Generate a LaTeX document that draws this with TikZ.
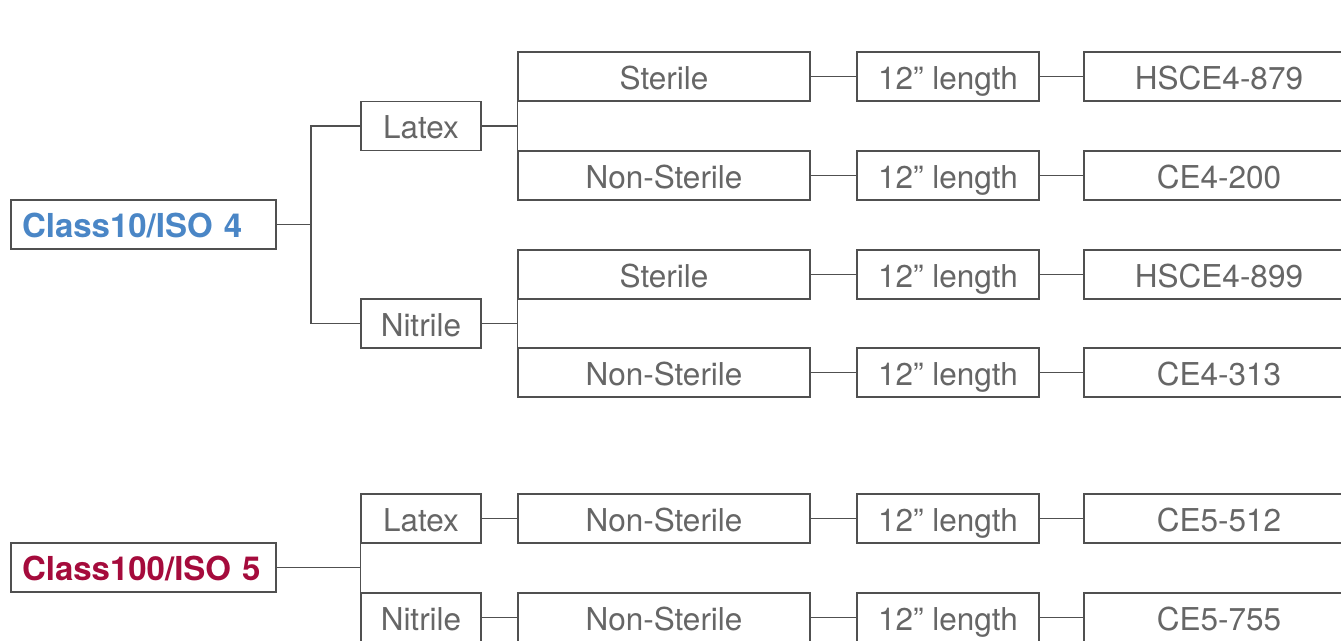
\documentclass[tikz,border=0pt]{standalone}
\usepackage{fontspec}
\setmainfont{TeX Gyre Heros}
\definecolor{linegray}{HTML}{505050}
\definecolor{txtgray}{HTML}{666666}
\definecolor{isoblue}{HTML}{4A86C6}
\definecolor{isored}{HTML}{A50B3C}
\tikzset{
  bx/.style={draw=linegray, line width=1.3pt, fill=white, inner sep=0pt,
    minimum height=49, text=txtgray, font=\fontsize{31.5}{31.5}\selectfont,
    text height=25pt, text depth=0pt},
  lvl1/.style={bx, minimum width=120},
  lvl2/.style={bx, minimum width=292},
  lvl3/.style={bx, minimum width=182},
  lvl4/.style={bx, minimum width=270},
  cls/.style={draw=linegray, line width=1.3pt, fill=white, inner ysep=0pt, inner xsep=11pt,
    minimum height=49, text width=243pt, align=left,
    font=\fontsize{33}{33}\selectfont\bfseries, text height=26pt, text depth=0pt},
  conn/.style={draw=linegray, line width=1.3pt}
}
\begin{document}
\begin{tikzpicture}[x=1pt,y=-1pt]
\clip (0,0) rectangle (1341,640);
\fill[white] (0,0) rectangle (1341,640);
% Class 10
\node[cls, text=isoblue] (c10) at (143.5,224.5) {Class10/ISO 4};
\node[lvl1] (lat1) at (421,126) {Latex};
\node[lvl1] (nit1) at (421,323.5) {Nitrile};
\node[lvl2] (st1) at (664,76.5) {Sterile};
\node[lvl2] (ns1) at (664,175.5) {Non-Sterile};
\node[lvl2] (st2) at (664,274.5) {Sterile};
\node[lvl2] (ns2) at (664,372.5) {Non-Sterile};
\node[lvl3] (l1) at (948,76.5) {12” length};
\node[lvl3] (l2) at (948,175.5) {12” length};
\node[lvl3] (l3) at (948,274.5) {12” length};
\node[lvl3] (l4) at (948,372.5) {12” length};
\node[lvl4] (p1) at (1219,76.5) {HSCE4-879};
\node[lvl4] (p2) at (1219,175.5) {CE4-200};
\node[lvl4] (p3) at (1219,274.5) {HSCE4-899};
\node[lvl4] (p4) at (1219,372.5) {CE4-313};
% Class 100
\node[cls, text=isored] (c100) at (143.5,567.5) {Class100/ISO 5};
\node[lvl1] (lat2) at (421,518.5) {Latex};
\node[lvl1] (nit2) at (421,617.5) {Nitrile};
\node[lvl2] (ns3) at (664,518.5) {Non-Sterile};
\node[lvl2] (ns4) at (664,617.5) {Non-Sterile};
\node[lvl3] (l5) at (948,518.5) {12” length};
\node[lvl3] (l6) at (948,617.5) {12” length};
\node[lvl4] (p5) at (1219,518.5) {CE5-512};
\node[lvl4] (p6) at (1219,617.5) {CE5-755};
% connectors class 10
\coordinate (j1) at (311,224.5);
\draw[conn] (c10.east) -- (j1);
\draw[conn] (j1) |- (lat1.west);
\draw[conn] (j1) |- (nit1.west);
\draw[conn] (lat1.east) -- (st1.west |- lat1.east);
\draw[conn] (st1.south west) -- (ns1.north west);
\draw[conn] (nit1.east) -- (st2.west |- nit1.east);
\draw[conn] (st2.south west) -- (ns2.north west);
\foreach \a/\b/\c in {st1/l1/p1, ns1/l2/p2, st2/l3/p3, ns2/l4/p4, ns3/l5/p5, ns4/l6/p6}{
  \draw[conn] (\a.east) -- (\b.west);
  \draw[conn] (\b.east) -- (\c.west);
}
% connectors class 100
\draw[conn] (c100.east) -- (lat2.west |- c100.east);
\draw[conn] (lat2.south west) -- (nit2.north west);
\draw[conn] (lat2.east) -- (ns3.west);
\draw[conn] (nit2.east) -- (ns4.west);
\end{tikzpicture}
\end{document}
